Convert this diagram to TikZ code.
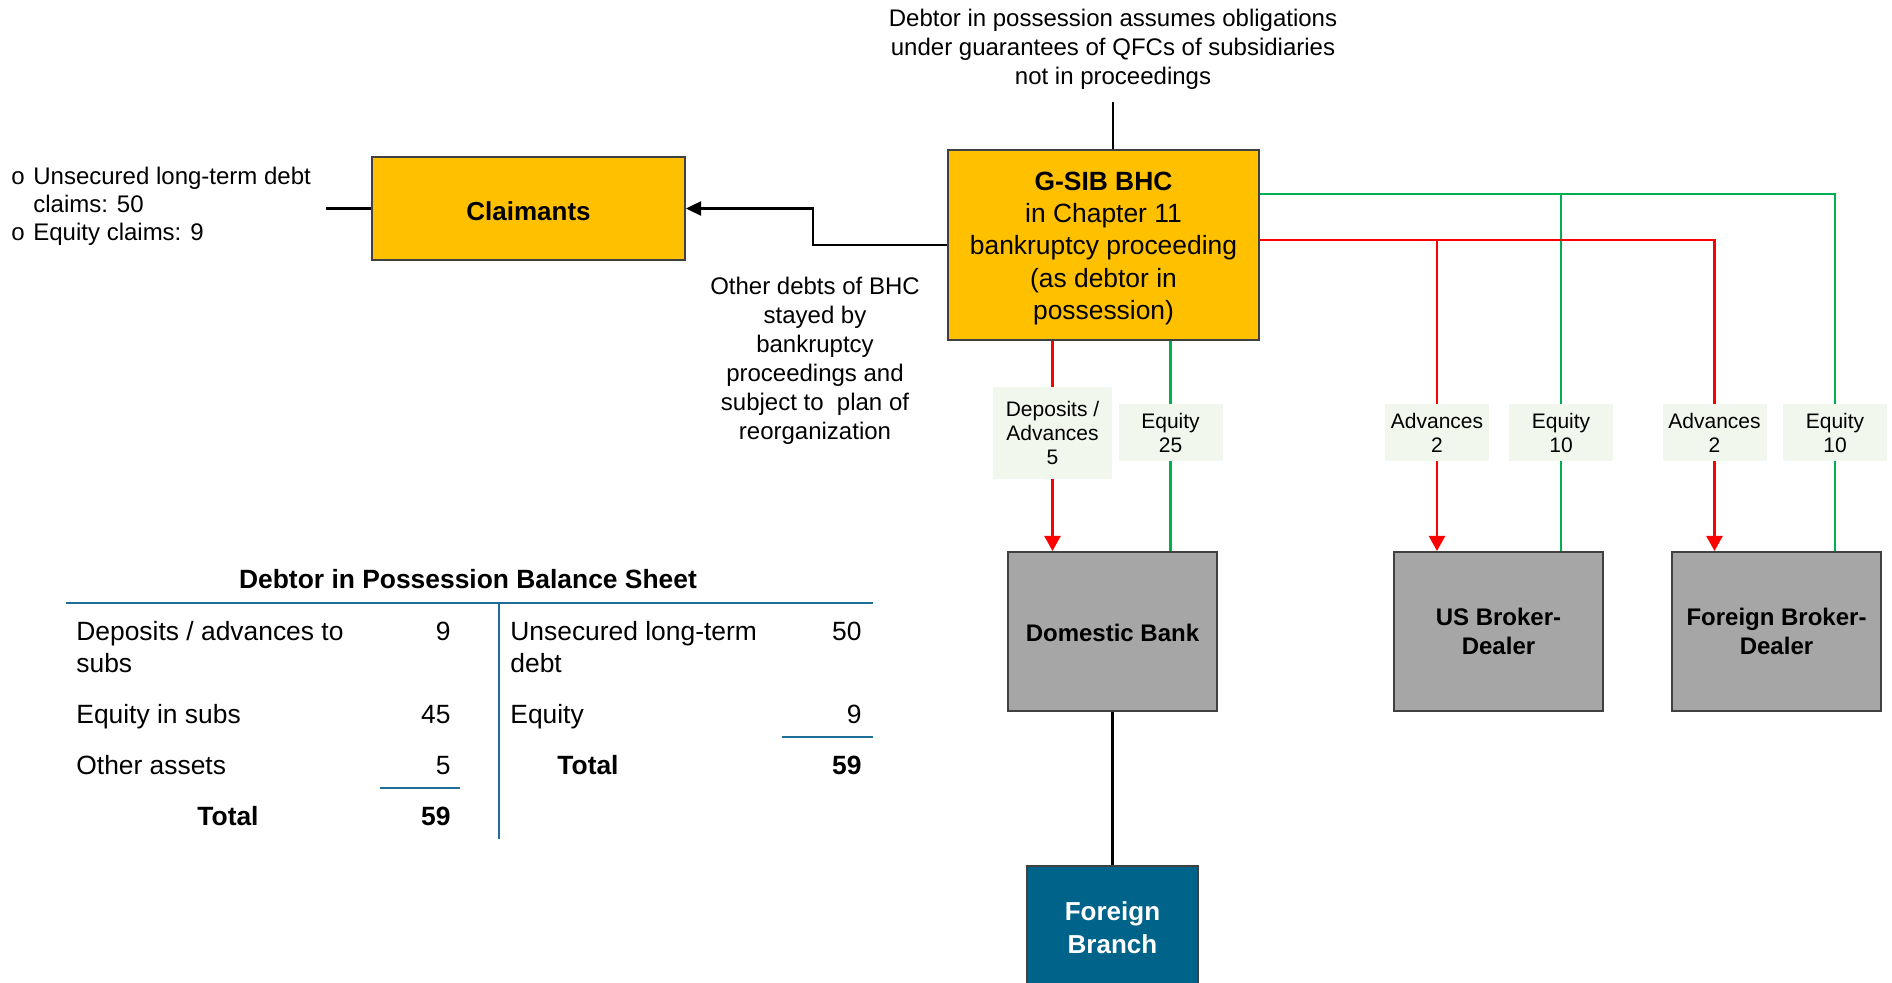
\documentclass[tikz,border=0pt]{standalone}
\usepackage{fontspec}
\setmainfont{Liberation Sans}
\usepackage{xcolor}
\usepackage{tikz}
\usetikzlibrary{positioning, arrows.meta, calc}

\definecolor{gsibyellow}{HTML}{FFC000}
\definecolor{subgray}{HTML}{A6A6A6}
\definecolor{boxborder}{HTML}{404040}
\definecolor{branchblue}{HTML}{00648A}
\definecolor{tagfill}{HTML}{F2F7EE}
\definecolor{eqgreen}{HTML}{00B050}
\definecolor{advred}{HTML}{FF0000}
\definecolor{sheetblue}{HTML}{1F6E98}

\tikzset{
    entity/.style={draw=boxborder, line width=1pt, align=center,
        font=\bfseries\fontsize{12}{14.5}\selectfont},
    yellowbox/.style={entity, fill=gsibyellow},
    subbox/.style={entity, fill=subgray, minimum width=104.5pt, minimum height=79.5pt},
    amounttag/.style={fill=tagfill, align=center, minimum width=52pt, minimum height=28.5pt,
        inner sep=1pt, font=\fontsize{10.5}{12}\selectfont},
    eqline/.style={draw=eqgreen, line width=1.1pt},
    advline/.style={draw=advred, line width=1.1pt},
    advtip/.style={-{Triangle[length=7.5pt, width=8pt]}},
    textnote/.style={align=center, font=\fontsize{12}{14.5}\selectfont},
    sheettext/.style={inner sep=0pt, font=\fontsize{13.2}{16}\selectfont},
    sheetbold/.style={inner sep=0pt, font=\bfseries\fontsize{13.2}{16}\selectfont},
    sheetrule/.style={draw=sheetblue, line width=1pt},
}

\begin{document}
\begin{tikzpicture}[x=0.5pt, y=-0.5pt]
    \useasboundingbox (0,0) rectangle (1892,983);

    % holding company and claimants
    \node[yellowbox, minimum width=155.5pt, minimum height=95pt,
        font=\fontsize{13.2}{16.1}\selectfont] (bhc) at (1103.5,245)
        {\rule{0pt}{12.6pt}\textbf{G-SIB BHC}\\in Chapter 11\\bankruptcy proceeding\\(as debtor in\\possession)};
    \node[yellowbox, minimum width=156.5pt, minimum height=51.5pt, text height=12pt,
        font=\bfseries\fontsize{13}{15}\selectfont] (claim) at (528.5,208.5) {Claimants};

    \node[textnote, inner sep=6pt] (guar) at (1113,49)
        {Debtor in possession assumes obligations\\under guarantees of QFCs of subsidiaries\\not in proceedings};
    \node[textnote] (stay) at (815,361)
        {Other debts of BHC\\stayed by\\bankruptcy\\proceedings and\\subject to\ \ plan of\\reorganization};
    \node[anchor=west, align=left, inner sep=0pt, font=\fontsize{12}{14}\selectfont] (claimlist) at (11,206)
        {\makebox[11pt][l]{o}Unsecured long-term debt\\\hspace*{11pt}claims: 50\\\makebox[11pt][l]{o}Equity claims: 9};

    % subsidiaries
    \node[subbox] (dbank) at (1112.5,631.5) {\rule{0pt}{10pt}Domestic Bank};
    \node[subbox] (usbd) at (1498.5,631.5) {US Broker-\\Dealer};
    \node[subbox] (fbd) at (1776.5,631.5) {Foreign Broker-\\Dealer};
    \node[entity, fill=branchblue, text=white, minimum width=85.5pt, minimum height=62pt,
        font=\bfseries\fontsize{13}{16.5}\selectfont] (fbranch) at (1112.5,928) {Foreign\\Branch};

    \node[amounttag, minimum width=59.5pt, minimum height=46pt] (depDB) at (1052.5,433) {Deposits /\\Advances\\5};
    \node[amounttag] (eqDB) at (1170.5,432.5) {Equity\\25};
    \node[amounttag] (advUS) at (1437,432.5) {Advances\\2};
    \node[amounttag] (eqUS) at (1561,432.5) {Equity\\10};
    \node[amounttag] (advF) at (1714.5,432.5) {Advances\\2};
    \node[amounttag] (eqF) at (1835,432.5) {Equity\\10};

    \coordinate (greenrail) at (0,194);
    \coordinate (redrail) at (0,240);

    % connectors
    \draw[line width=1.2pt, -{Triangle[length=7.5pt, width=7pt]}]
        (bhc.west) -- ++(-134,0) |- (claim.east);
    \draw[line width=1.2pt] (claim.west) -- ++(-45,0);
    \draw[line width=1pt] (guar.south) -- (guar.south |- bhc.north);
    \draw[line width=1.2pt] (dbank.south) -- (fbranch.north);

    \draw[advline] (bhc.south -| depDB.north) -- (depDB.north);
    \draw[advline, advtip] (depDB.south) -- (depDB.south |- dbank.north);
    \draw[eqline] (bhc.south -| eqDB.north) -- (eqDB.north);
    \draw[eqline] (eqDB.south) -- (eqDB.south |- dbank.north);

    \draw[eqline] (bhc.east |- greenrail) -| (eqF.north);
    \draw[eqline] (eqUS.north |- greenrail) -- (eqUS.north);
    \draw[advline] (bhc.east |- redrail) -| (advF.north);
    \draw[advline] (advUS.north |- redrail) -- (advUS.north);
    \foreach \t/\b in {advUS/usbd, advF/fbd}
        \draw[advline, advtip] (\t.south) -- (\t.south |- \b.north);
    \foreach \t/\b in {eqUS/usbd, eqF/fbd}
        \draw[eqline] (\t.south) -- (\t.south |- \b.north);

    % balance sheet
    \node[sheetbold, anchor=base] (bstitle) at (468,589) {Debtor in Possession Balance Sheet};
    \draw[sheetrule] (66,603) -- (873,603);
    \draw[sheetrule] (499,603) -- (499,839);
    \draw[sheetrule] (380,788) -- (460,788);
    \draw[sheetrule] (782,737) -- (873,737);

    \node[sheettext, anchor=base west] (aDep) at (76,641) {Deposits / advances to};
    \node[sheettext, anchor=base west] (aDepb) at (76,673) {subs};
    \node[sheettext, anchor=base east] (vDep) at (451,641) {9};
    \node[sheettext, anchor=base west] (aEq) at (76,724) {Equity in subs};
    \node[sheettext, anchor=base east] (vEq) at (451,724) {45};
    \node[sheettext, anchor=base west] (aOth) at (76,775) {Other assets};
    \node[sheettext, anchor=base east] (vOth) at (451,775) {5};
    \node[sheetbold, anchor=base] (aTot) at (228,826) {Total};
    \node[sheetbold, anchor=base east] (vaTot) at (451,826) {59};

    \node[sheettext, anchor=base west] (lDebt) at (510,641) {Unsecured long-term};
    \node[sheettext, anchor=base west] (lDebtb) at (510,673) {debt};
    \node[sheettext, anchor=base east] (vDebt) at (862,641) {50};
    \node[sheettext, anchor=base west] (lEq) at (510,724) {Equity};
    \node[sheettext, anchor=base east] (vlEq) at (862,724) {9};
    \node[sheetbold, anchor=base] (lTot) at (588,775) {Total};
    \node[sheetbold, anchor=base east] (vlTot) at (862,775) {59};
\end{tikzpicture}
\end{document}
